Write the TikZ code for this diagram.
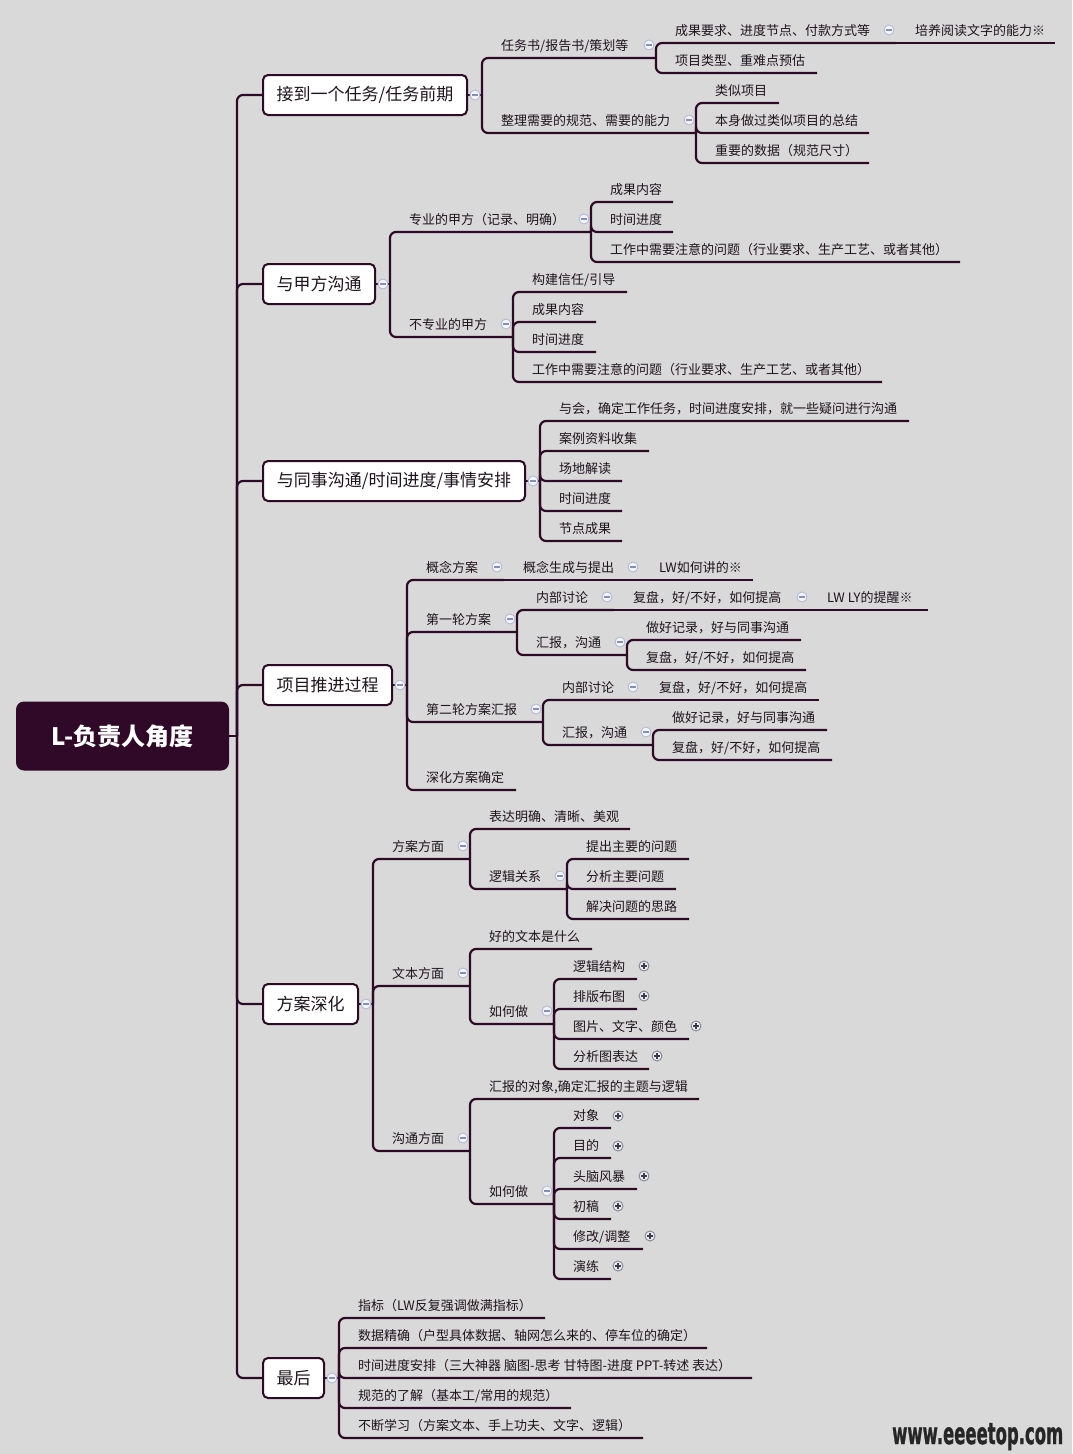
\documentclass[tikz,border=0pt]{standalone}
\usepackage{fontspec}
\setmainfont{Noto Sans CJK SC}
\newfontface\wmfont{DejaVu Sans Bold}[FakeBold=1.4]
\usepackage{graphicx}
\definecolor{bgcol}{RGB}{217,217,217}
\definecolor{linecol}{RGB}{45,10,37}
\definecolor{rootcol}{RGB}{48,8,40}
\definecolor{textcol}{RGB}{30,20,28}
\definecolor{minfill}{RGB}{244,245,251}
\definecolor{minbord}{RGB}{176,186,216}
\definecolor{minbar}{RGB}{130,144,192}
\definecolor{plusfill}{RGB}{238,238,240}
\definecolor{plusbord}{RGB}{130,130,148}
\definecolor{plusbar}{RGB}{60,60,80}
\definecolor{wmcol}{RGB}{38,38,38}
\tikzset{
  conn/.style={draw=linecol, line width=2.2pt, rounded corners=6pt},
  flat/.style={draw=linecol, line width=2.2pt},
  lab/.style={font=\fontsize{13}{15}\selectfont, text=textcol, inner sep=0pt, anchor=base west},
  topic/.style={draw=linecol, line width=2pt, fill=white, rounded corners=5pt, minimum height=40pt,
    inner xsep=4pt, anchor=west, font=\fontsize{17}{20}\selectfont, text=textcol},
  rootbox/.style={fill=rootcol, rounded corners=8pt, minimum width=213pt, minimum height=69pt,
    text=white, font=\fontsize{24}{28}\selectfont\bfseries},
  cminus/.style={circle, draw=minbord, fill=minfill, line width=0.9pt, minimum size=10pt, inner sep=0pt,
    path picture={\draw[draw=minbar, line width=1.2pt] ([xshift=-2.6pt]path picture bounding box.center) -- ([xshift=2.6pt]path picture bounding box.center);}},
  cplus/.style={circle, draw=plusbord, fill=plusfill, line width=0.9pt, minimum size=10pt, inner sep=0pt,
    path picture={\draw[draw=plusbar, line width=1.1pt] ([xshift=-2.6pt]path picture bounding box.center) -- ([xshift=2.6pt]path picture bounding box.center)
      ([yshift=-2.6pt]path picture bounding box.center) -- ([yshift=2.6pt]path picture bounding box.center);}},
  wm/.style={anchor=base west, inner sep=0pt},
}
% name, parent junction, text x, underline y, underline end x, text
\newcommand{\mmkid}[6]{%
  \node[lab] (#1) at (#3,#4-8) {#6};
  \coordinate (#1-e) at (#5,#4);
  \draw[conn] (#2) |- (#1-e);
}
% same-line continuation (single child)
\newcommand{\mmnext}[6]{%
  \node[lab] (#1) at (#3,#4-8) {#6};
  \coordinate (#1-e) at (#5,#4);
  \draw[flat] (#2) -- (#1-e);
}
\begin{document}
\begin{tikzpicture}[x=1pt,y=-1pt]
\fill[bgcol] (0,0) rectangle (1072,1454);
\useasboundingbox (0,0) rectangle (1072,1454);

% root
\node[rootbox] (root) at (122.5,736) {L-负责人角度};
\coordinate (J0) at (237,736);
\draw[conn] (root.east) -- (J0);

% level 1
\node[topic, minimum width=204pt] (b1) at (262,95) {接到一个任务/任务前期};
\node[topic, minimum width=112pt] (b2) at (262,284) {与甲方沟通};
\node[topic, minimum width=262pt] (b3) at (262,481) {与同事沟通/时间进度/事情安排};
\node[topic, minimum width=129pt] (b4) at (262,685) {项目推进过程};
\node[topic, minimum width=95pt] (b5) at (262,1004) {方案深化};
\node[topic, minimum width=61pt] (b6) at (262,1378) {最后};
\foreach \b in {b1,b2,b3,b4,b5,b6} {\draw[conn] (J0) |- (\b.west);}

\coordinate (J1) at (482,95);   \draw[flat] (b1.east) -- (J1);
\coordinate (J2) at (390,284);  \draw[flat] (b2.east) -- (J2);
\coordinate (J3) at (540,481);  \draw[flat] (b3.east) -- (J3);
\coordinate (J4) at (407,685);  \draw[flat] (b4.east) -- (J4);
\coordinate (J5) at (373,1004); \draw[flat] (b5.east) -- (J5);
\coordinate (J6) at (339,1378); \draw[flat] (b6.east) -- (J6);

% ---- branch 1
\mmkid{a1}{J1}{501}{58}{656}{任务书/报告书/策划等}
\mmkid{a2}{J1}{501}{133}{696}{整理需要的规范、需要的能力}
\coordinate (Ja1) at (656,58);
\coordinate (Ja2) at (696,133);
\mmkid{a11}{Ja1}{675}{43}{896}{成果要求、进度节点、付款方式等}
\coordinate (Ja11) at (896,43);
\mmnext{a111}{Ja11}{915}{43}{1055}{培养阅读文字的能力※}
\mmkid{a12}{Ja1}{675}{73}{817}{项目类型、重难点预估}
\mmkid{a21}{Ja2}{715}{103}{779}{类似项目}
\mmkid{a22}{Ja2}{715}{133}{869}{本身做过类似项目的总结}
\mmkid{a23}{Ja2}{715}{163}{869}{重要的数据（规范尺寸）}

% ---- branch 2
\mmkid{p1}{J2}{409}{232}{591}{专业的甲方（记录、明确）}
\mmkid{p2}{J2}{409}{337}{513}{不专业的甲方}
\coordinate (Jp1) at (591,232);
\coordinate (Jp2) at (513,337);
\mmkid{p11}{Jp1}{610}{202}{673}{成果内容}
\mmkid{p12}{Jp1}{610}{232}{673}{时间进度}
\mmkid{p13}{Jp1}{610}{262}{960}{工作中需要注意的问题（行业要求、生产工艺、或者其他）}
\mmkid{p21}{Jp2}{532}{292}{627}{构建信任/引导}
\mmkid{p22}{Jp2}{532}{322}{596}{成果内容}
\mmkid{p23}{Jp2}{532}{352}{596}{时间进度}
\mmkid{p24}{Jp2}{532}{382}{882}{工作中需要注意的问题（行业要求、生产工艺、或者其他）}

% ---- branch 3
\mmkid{q1}{J3}{559}{421}{909}{与会，确定工作任务，时间进度安排，就一些疑问进行沟通}
\mmkid{q2}{J3}{559}{451}{649}{案例资料收集}
\mmkid{q3}{J3}{559}{481}{622}{场地解读}
\mmkid{q4}{J3}{559}{511}{622}{时间进度}
\mmkid{q5}{J3}{559}{541}{622}{节点成果}

% ---- branch 4
\mmkid{r1}{J4}{426}{580}{504}{概念方案}
\coordinate (Jr1) at (504,580);
\mmnext{r11}{Jr1}{523}{580}{640}{概念生成与提出}
\coordinate (Jr11) at (640,580);
\mmnext{r111}{Jr11}{659}{580}{753}{LW如何讲的※}
\mmkid{r2}{J4}{426}{632}{517}{第一轮方案}
\coordinate (Jr2) at (517,632);
\mmkid{r21}{Jr2}{536}{610}{614}{内部讨论}
\coordinate (Jr21) at (614,610);
\mmnext{r211}{Jr21}{633}{610}{809}{复盘，好/不好，如何提高}
\coordinate (Jr211) at (809,610);
\mmnext{r2111}{Jr211}{827}{610}{928}{LW LY的提醒※}
\mmkid{r22}{Jr2}{536}{655}{627}{汇报，沟通}
\coordinate (Jr22) at (627,655);
\mmkid{r221}{Jr22}{646}{640}{801}{做好记录，好与同事沟通}
\mmkid{r222}{Jr22}{646}{670}{806}{复盘，好/不好，如何提高}
\mmkid{r3}{J4}{426}{722}{543}{第二轮方案汇报}
\coordinate (Jr3) at (543,722);
\mmkid{r31}{Jr3}{562}{700}{640}{内部讨论}
\coordinate (Jr31) at (640,700);
\mmnext{r311}{Jr31}{659}{700}{819}{复盘，好/不好，如何提高}
\mmkid{r32}{Jr3}{562}{745}{653}{汇报，沟通}
\coordinate (Jr32) at (653,745);
\mmkid{r321}{Jr32}{672}{730}{827}{做好记录，好与同事沟通}
\mmkid{r322}{Jr32}{672}{760}{832}{复盘，好/不好，如何提高}
\mmkid{r4}{J4}{426}{790}{516}{深化方案确定}

% ---- branch 5
\mmkid{s1}{J5}{392}{859}{470}{方案方面}
\coordinate (Js1) at (470,859);
\mmkid{s11}{Js1}{489}{829}{630}{表达明确、清晰、美观}
\mmkid{s12}{Js1}{489}{889}{567}{逻辑关系}
\coordinate (Js12) at (567,889);
\mmkid{s121}{Js12}{586}{859}{689}{提出主要的问题}
\mmkid{s122}{Js12}{586}{889}{676}{分析主要问题}
\mmkid{s123}{Js12}{586}{919}{689}{解决问题的思路}
\mmkid{s2}{J5}{392}{986}{470}{文本方面}
\coordinate (Js2) at (470,986);
\mmkid{s21}{Js2}{489}{949}{592}{好的文本是什么}
\mmkid{s22}{Js2}{489}{1024}{554}{如何做}
\coordinate (Js22) at (554,1024);
\mmkid{s221}{Js22}{573}{979}{637}{逻辑结构}
\mmkid{s222}{Js22}{573}{1009}{637}{排版布图}
\mmkid{s223}{Js22}{573}{1039}{689}{图片、文字、颜色}
\mmkid{s224}{Js22}{573}{1069}{649}{分析图表达}
\mmkid{s3}{J5}{392}{1151}{470}{沟通方面}
\coordinate (Js3) at (470,1151);
\mmkid{s31}{Js3}{489}{1099}{699}{汇报的对象,确定汇报的主题与逻辑}
\mmkid{s32}{Js3}{489}{1204}{554}{如何做}
\coordinate (Js32) at (554,1204);
\mmkid{s321}{Js32}{573}{1128}{611}{对象}
\mmkid{s322}{Js32}{573}{1158}{611}{目的}
\mmkid{s323}{Js32}{573}{1189}{637}{头脑风暴}
\mmkid{s324}{Js32}{573}{1219}{611}{初稿}
\mmkid{s325}{Js32}{573}{1249}{643}{修改/调整}
\mmkid{s326}{Js32}{573}{1279}{611}{演练}

% ---- branch 6
\mmkid{u1}{J6}{358}{1318}{545}{指标（LW反复强调做满指标）}
\mmkid{u2}{J6}{358}{1348}{707}{数据精确（户型具体数据、轴网怎么来的、停车位的确定）}
\mmkid{u3}{J6}{358}{1378}{752}{时间进度安排（三大神器 脑图-思考 甘特图-进度 PPT-转述 表达）}
\mmkid{u4}{J6}{358}{1408}{571}{规范的了解（基本工/常用的规范）}
\mmkid{u5}{J6}{358}{1438}{643}{不断学习（方案文本、手上功夫、文字、逻辑）}

% ---- collapse / expand markers
\node[cminus] (m-b1) at (475,95) {};
\node[cminus] (m-b2) at (383,284) {};
\node[cminus] (m-b3) at (533,481) {};
\node[cminus] (m-b4) at (400,685) {};
\node[cminus] (m-b5) at (366,1004) {};
\node[cminus] (m-b6) at (332,1378) {};
\node[cminus] (m-a1) at (649,45) {};
\node[cminus] (m-a2) at (689,120) {};
\node[cminus] (m-a11) at (889,30) {};
\node[cminus] (m-p1) at (584,219) {};
\node[cminus] (m-p2) at (506,324) {};
\node[cminus] (m-r1) at (497,567) {};
\node[cminus] (m-r11) at (633,567) {};
\node[cminus] (m-r2) at (510,619) {};
\node[cminus] (m-r21) at (607,597) {};
\node[cminus] (m-r211) at (802,597) {};
\node[cminus] (m-r22) at (620,642) {};
\node[cminus] (m-r3) at (536,709) {};
\node[cminus] (m-r31) at (633,687) {};
\node[cminus] (m-r32) at (646,732) {};
\node[cminus] (m-s1) at (463,846) {};
\node[cminus] (m-s12) at (560,876) {};
\node[cminus] (m-s2) at (463,973) {};
\node[cminus] (m-s22) at (547,1011) {};
\node[cminus] (m-s3) at (463,1138) {};
\node[cminus] (m-s32) at (547,1191) {};
\node[cplus] (x-s221) at (644,966) {};
\node[cplus] (x-s222) at (644,996) {};
\node[cplus] (x-s223) at (696,1026) {};
\node[cplus] (x-s224) at (657,1056) {};
\node[cplus] (x-s321) at (618,1116) {};
\node[cplus] (x-s322) at (618,1146) {};
\node[cplus] (x-s323) at (644,1176) {};
\node[cplus] (x-s324) at (618,1206) {};
\node[cplus] (x-s325) at (650,1236) {};
\node[cplus] (x-s326) at (618,1266) {};

% ---- watermark
\node[wm, text=wmcol] (wm) at (892,1444) {\resizebox{171pt}{21pt}{\wmfont www.eeeetop.com}};
\end{tikzpicture}
\end{document}
